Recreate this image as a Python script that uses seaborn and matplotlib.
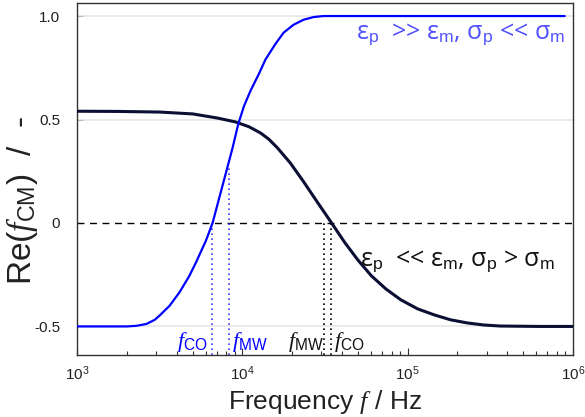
import numpy as np
import pandas as pd
import matplotlib
matplotlib.use("Agg")
import matplotlib.pyplot as plt
import matplotlib.ticker as mticker
import seaborn as sns

# ---------------- data ----------------
# log10 of frequency for each sampled point
blue_logf = [3.00, 3.20, 3.30, 3.36, 3.42, 3.47, 3.50, 3.56, 3.62, 3.68, 3.72, 3.78, 3.82,
             3.86, 3.90, 3.94, 3.976, 4.01, 4.05, 4.10, 4.14, 4.20, 4.25, 4.31, 4.37, 4.43,
             4.49, 5.00, 5.50, 5.95]
blue_re = [-0.50, -0.50, -0.50, -0.497, -0.488, -0.468, -0.447, -0.40, -0.335, -0.255, -0.19, -0.085, 0.00,
           0.12, 0.24, 0.36, 0.48, 0.565, 0.64, 0.72, 0.79, 0.865, 0.92, 0.958, 0.982, 0.995,
           1.00, 1.00, 1.00, 1.00]

black_logf = [3.00, 3.25, 3.50, 3.70, 3.85, 3.96, 4.04, 4.11, 4.16, 4.21, 4.29, 4.37,
              4.45, 4.54, 4.62, 4.70, 4.78, 4.87, 4.96, 5.06, 5.16, 5.26, 5.36, 5.46,
              5.56, 5.80, 6.00]
black_re = [0.54, 0.539, 0.536, 0.527, 0.507, 0.488, 0.465, 0.435, 0.405, 0.365, 0.29, 0.20,
            0.105, 0.00, -0.095, -0.18, -0.255, -0.32, -0.372, -0.415, -0.444, -0.468, -0.483, -0.493,
            -0.498, -0.50, -0.50]

# characteristic frequencies (Hz)
blue_f_co, blue_f_mw = 6580, 8340
black_f_mw, black_f_co = 31000, 34600
blue_f_mw_top = 0.27

y_ticks = [-0.5, 0, 0.5, 1.0]
y_tick_labels = ["-0.5", "0", "0.5", "1.0"]
x_ticks = [1e3, 1e4, 1e5, 1e6]

blue_df = pd.DataFrame({"f": np.power(10.0, blue_logf), "re": blue_re})
black_df = pd.DataFrame({"f": np.power(10.0, black_logf), "re": black_re})

# ---------------- style ----------------
sns.set_theme(style="white")
plt.rcParams["font.family"] = ["Liberation Sans", "DejaVu Sans"]
plt.rcParams["mathtext.fontset"] = "custom"
plt.rcParams["mathtext.it"] = "Liberation Serif:italic"
plt.rcParams["mathtext.rm"] = "Liberation Sans"
plt.rcParams["mathtext.sf"] = "Liberation Sans"
plt.rcParams["axes.unicode_minus"] = False

fig = plt.figure(figsize=(5.85, 4.17), dpi=100)
ax = fig.add_axes([77 / 585, 1 - 355 / 417, (573 - 77) / 585, (355 - 3) / 417])

BLUE = "#0000ff"
NAVY = "#0a0f33"

# grid lines
for yv in [-0.5, 0.5, 1.0]:
    ax.axhline(yv, color="#e6e6e6", lw=1.2, zorder=0)
ax.axhline(0, color="black", lw=1.0, ls=(0, (5, 4)), zorder=1)

sns.lineplot(data=black_df, x="f", y="re", ax=ax, color=NAVY, lw=2.2, sort=True, zorder=3)
sns.lineplot(data=blue_df, x="f", y="re", ax=ax, color=BLUE, lw=1.6, sort=True, zorder=4)

ax.set_xscale("log")
ax.set_xlim(1e3, 1e6)
ax.set_ylim(-0.638, 1.063)

# dotted marker lines
ax.vlines([blue_f_co], -0.638, 0, colors="#3b3bff", linestyles=(0, (1, 2)), lw=1.2, zorder=2)
ax.vlines([blue_f_mw], -0.638, blue_f_mw_top, colors="#3b3bff", linestyles=(0, (1, 2)), lw=1.2, zorder=2)
ax.vlines([black_f_mw, black_f_co], -0.638, 0, colors="black", linestyles=(0, (1, 2)), lw=1.2, zorder=2)

# ticks
ax.set_xticks(x_ticks)
ax.xaxis.set_major_formatter(mticker.LogFormatterMathtext())
ax.xaxis.set_minor_locator(mticker.LogLocator(base=10, subs=np.arange(2, 10)))
ax.xaxis.set_minor_formatter(mticker.NullFormatter())
ax.tick_params(axis="x", which="major", direction="in", length=5, width=0.8, colors="#333333",
               labelsize=11, labelcolor="#222222", pad=7, bottom=True)
ax.tick_params(axis="x", which="minor", direction="in", length=3, width=0.8, colors="#333333", bottom=True)
ax.set_yticks(y_ticks)
ax.set_yticklabels(y_tick_labels)
ax.tick_params(axis="y", which="major", direction="in", length=4, width=0.8, colors="#bbbbbb",
               labelsize=11, labelcolor="#222222", pad=12, left=True)

for s in ax.spines.values():
    s.set_color("#333333")
    s.set_linewidth(1.0)
    s.set_visible(True)

ax.set_xlabel(r"Frequency $f$ / Hz", fontsize=19, color="#222222")
ax.set_ylabel(r"Re($f_{\rm CM}$)  /  -", fontsize=24, color="#222222")
ax.xaxis.set_label_coords(0.5, -0.094)
ax.yaxis.set_label_coords(-0.0746, 0.44)

# annotations
ann_font = ["Open Sans", "DejaVu Sans"]
ax.text(0.985, 0.909, "ε$_{\\rm p}$  >> ε$_{\\rm m}$, σ$_{\\rm p}$ << σ$_{\\rm m}$",
        transform=ax.transAxes, ha="right", va="center", color="#5050ff",
        fontsize=18, family=ann_font)
ax.text(0.964, 0.264, "ε$_{\\rm p}$  << ε$_{\\rm m}$, σ$_{\\rm p}$ > σ$_{\\rm m}$",
        transform=ax.transAxes, ha="right", va="center", color="#111111",
        fontsize=18, family=ann_font)

lab_y = -0.575
ax.text(blue_f_co / 1.06, lab_y, r"$f_{\rm CO}$", color=BLUE, ha="right", va="center", fontsize=16)
ax.text(blue_f_mw * 1.04, lab_y, r"$f_{\rm MW}$", color=BLUE, ha="left", va="center", fontsize=16)
ax.text(black_f_mw / 1.0, lab_y, r"$f_{\rm MW}$", color="#111111", ha="right", va="center", fontsize=16)
ax.text(black_f_co * 1.04, lab_y, r"$f_{\rm CO}$", color="#111111", ha="left", va="center", fontsize=16)

fig.savefig("out.png", dpi=100)
